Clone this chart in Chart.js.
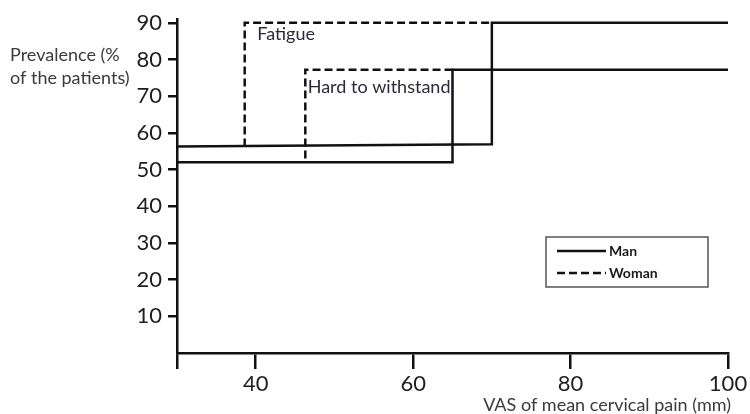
<!DOCTYPE html>
<html>
<head>
<meta charset="utf-8">
<script src="https://cdn.jsdelivr.net/npm/chart.js@4.4.1/dist/chart.umd.min.js"></script>
<style>
  html, body { margin: 0; padding: 0; background: #ffffff; }
  #wrap { width: 750px; height: 414px; position: relative; }
</style>
</head>
<body>
<div id="wrap"><canvas id="c" width="750" height="414"></canvas></div>
<script>
// Prevalence step curves against VAS of mean cervical pain (mm)
const manFatigueX   = [30, 70, 70, 100];
const manFatigueY   = [56.3, 56.9, 90, 90];
const manHardX      = [30, 65, 65, 100];
const manHardY      = [52, 52, 77.2, 77.2];
const womanFatigueX = [38.6, 38.6, 70];
const womanFatigueY = [56.3, 90, 90];
const womanHardX    = [46.3, 46.3, 65];
const womanHardY    = [53, 77.2, 77.2];

const xTickValues = [30, 40, 60, 80, 100];
const yTickValues = [10, 20, 30, 40, 50, 60, 70, 80, 90];

const curveLabels = [
  { text: 'Fatigue', x: 40.2, y: 87 },
  { text: 'Hard to withstand', x: 46.6, y: 72.5 }
];
const legendItems = [
  { text: 'Man', dash: [] },
  { text: 'Woman', dash: [8, 4] }
];

const FONT = 'Lato, "Open Sans", sans-serif';
const pts = (xs, ys) => xs.map((x, i) => ({ x: x, y: ys[i] }));

function series(label, xs, ys, dash) {
  return {
    label: label,
    data: pts(xs, ys),
    showLine: true,
    borderColor: '#111111',
    borderWidth: 2.5,
    borderDash: dash,
    pointRadius: 0,
    pointHoverRadius: 0,
    fill: false,
    tension: 0
  };
}

const annotations = {
  id: 'annotations',
  afterDraw(chart) {
    const ctx = chart.ctx;
    const xs = chart.scales.x, ys = chart.scales.y;
    ctx.save();
    // curve labels
    ctx.fillStyle = '#2a2a3a';
    ctx.font = '18px ' + FONT;
    ctx.textAlign = 'left';
    ctx.textBaseline = 'middle';
    curveLabels.forEach(l => {
      ctx.fillText(l.text, xs.getPixelForValue(l.x), ys.getPixelForValue(l.y));
    });
    // y axis title (two lines, left of the axis)
    ctx.fillStyle = '#3a3a3a';
    ctx.fillText('Prevalence (%', 10, 55);
    ctx.fillText('of the patients)', 10, 78);
    // x axis title, right aligned under the axis end
    ctx.textAlign = 'right';
    ctx.fillText('VAS of mean cervical pain (mm)', 731, 405);
    // legend box
    const bx = 546, by = 237, bw = 162, bh = 50;
    ctx.strokeStyle = '#555555';
    ctx.lineWidth = 1.5;
    ctx.strokeRect(bx, by, bw, bh);
    ctx.font = 'bold 14px ' + FONT;
    ctx.textAlign = 'left';
    ctx.fillStyle = '#1a1a1a';
    legendItems.forEach((it, i) => {
      const y = by + 14 + i * 22;
      ctx.beginPath();
      ctx.setLineDash(it.dash);
      ctx.strokeStyle = '#111111';
      ctx.lineWidth = 2.5;
      ctx.moveTo(bx + 11, y);
      ctx.lineTo(bx + 60, y);
      ctx.stroke();
      ctx.setLineDash([]);
      ctx.fillText(it.text, bx + 63, y);
    });
    ctx.restore();
  }
};

new Chart(document.getElementById('c'), {
  type: 'scatter',
  data: {
    datasets: [
      series('Man', manFatigueX, manFatigueY, []),
      series('Man', manHardX, manHardY, []),
      series('Woman', womanFatigueX, womanFatigueY, [8, 4]),
      series('Woman', womanHardX, womanHardY, [8, 4])
    ]
  },
  options: {
    responsive: false,
    animation: false,
    events: [],
    layout: { padding: { top: 9, right: 22, left: 0, bottom: 0 } },
    plugins: { legend: { display: false }, tooltip: { enabled: false } },
    scales: {
      x: {
        type: 'linear',
        min: 30,
        max: 100,
        afterBuildTicks: s => { s.ticks = xTickValues.map(v => ({ value: v })); },
        afterFit: s => { s.height = 61; },
        ticks: {
          autoSkip: false,
          maxRotation: 0,
          padding: 2,
          color: '#1e1e1e',
          font: { family: FONT, size: 22 },
          callback: v => (v === 30 ? '' : String(v))
        },
        grid: { drawOnChartArea: false, drawTicks: true, tickLength: 16, color: '#111111', lineWidth: 2.5 },
        border: { display: true, color: '#111111', width: 2.5 }
      },
      y: {
        type: 'linear',
        min: 0,
        max: 91,
        afterBuildTicks: s => { s.ticks = yTickValues.map(v => ({ value: v })); },
        afterFit: s => { s.width = 177; },
        ticks: {
          autoSkip: false,
          padding: 6,
          color: '#1e1e1e',
          font: { family: FONT, size: 22 },
          callback: v => String(v)
        },
        grid: { drawOnChartArea: false, drawTicks: true, tickLength: 9, color: '#111111', lineWidth: 2.5 },
        border: { display: true, color: '#111111', width: 2.5 }
      }
    }
  },
  plugins: [annotations]
});
</script>
</body>
</html>
